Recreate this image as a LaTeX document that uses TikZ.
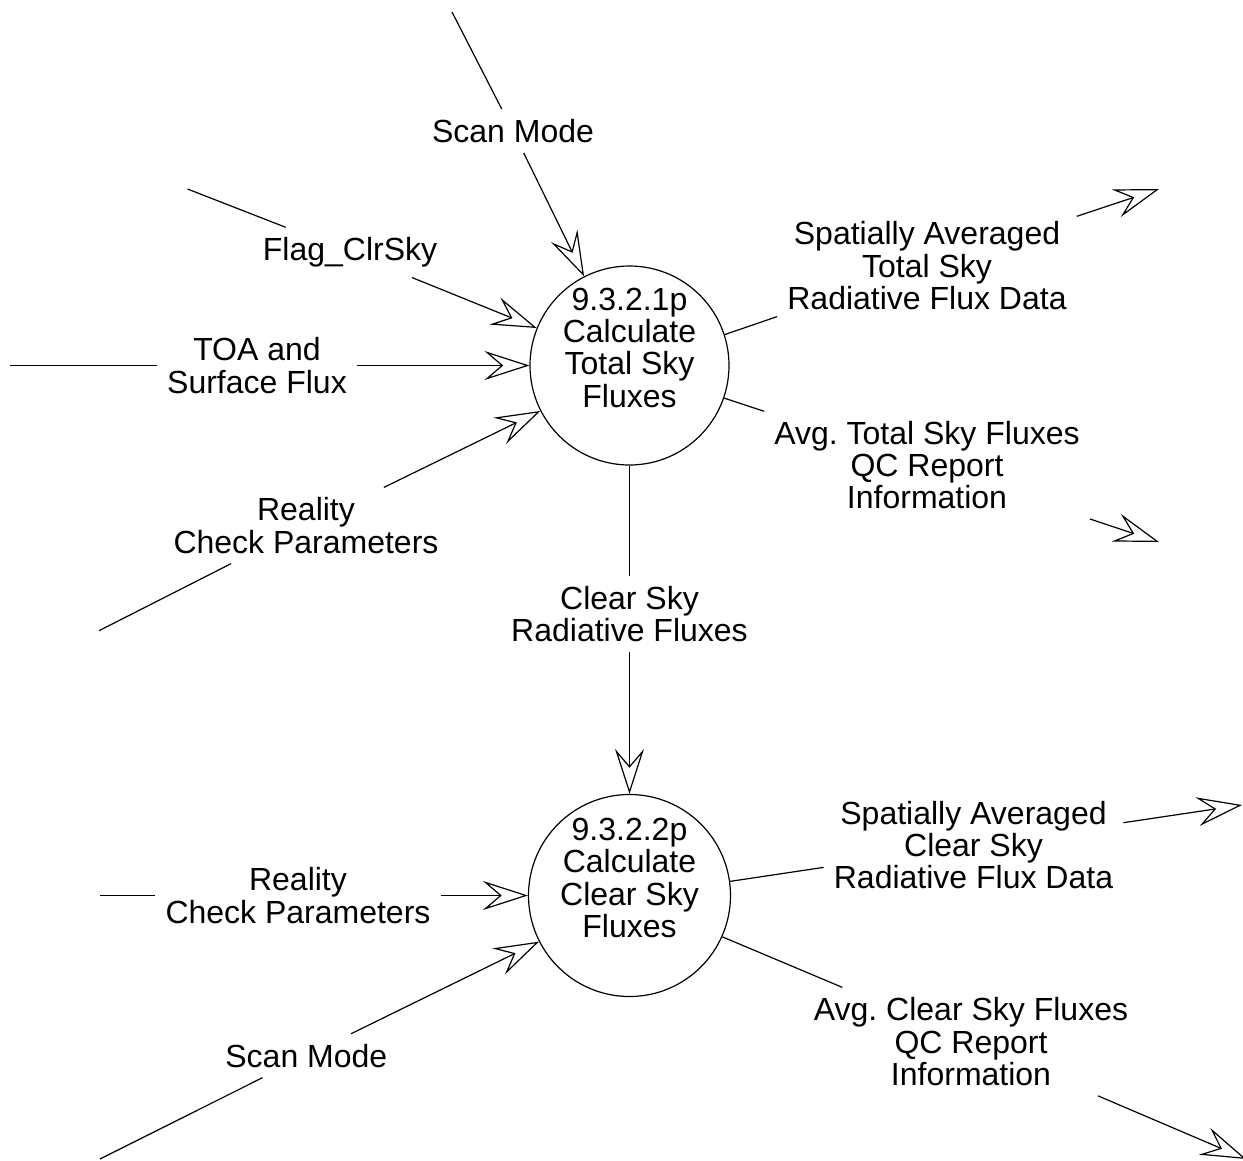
\documentclass[tikz,border=0pt]{standalone}
\usepackage{fontspec}
\setmainfont{Liberation Sans}
\usetikzlibrary{arrows.meta}
\frenchspacing
\tikzset{
  flow/.style={line width=1.2pt},
  flowarrow/.style={flow, -{Stealth[open, length=45pt, width=29pt, inset=17pt]}},
  proc/.style={circle, draw, line width=1.2pt, inner sep=0pt},
  lbl/.style={align=center, inner sep=10pt, font=\fontsize{32}{32.3}\selectfont},
  ptext/.style={lbl, inner sep=0pt},
}
\begin{document}
\begin{tikzpicture}[x=1pt, y=-1pt]
  \fill[white] (0,0) rectangle (1243,1160);
  \useasboundingbox (0,0) rectangle (1243,1160);

  % processes
  \node[proc, minimum size=199pt] (p1) at (629.5,365.5) {};
  \node[ptext] (t1) at (629.5,347.6) {9.3.2.1p\\Calculate\\Total Sky\\Fluxes};
  \node[proc, minimum size=202pt] (p2) at (629.5,895.5) {};
  \node[ptext] (t2) at (629.5,878) {9.3.2.2p\\Calculate\\Clear Sky\\Fluxes};

  % inputs to 9.3.2.1p
  \coordinate (s1) at (452,12);
  \node[lbl] (l1) at (513,131) {Scan Mode};
  \draw[flow] (s1) -- (l1);
  \draw[flowarrow] (l1) -- (p1.117);

  \coordinate (s2) at (187.5,189);
  \node[lbl] (l2) at (350,252.4) {Flag\_ClrSky};
  \draw[flow] (s2) -- (l2);
  \draw[flowarrow] (l2) -- (p1.158);

  \coordinate (s3) at (10,365.5);
  \node[lbl] (l3) at (257,365.5) {TOA and\\Surface Flux};
  \draw[flow] (s3) -- (l3);
  \draw[flowarrow] (l3) -- (p1.west);

  \coordinate (s4) at (99,630.7);
  \node[lbl] (l4) at (306,525.5) {Reality\\Check Parameters};
  \draw[flow] (s4) -- (l4);
  \draw[flowarrow] (l4) -- (p1.207);

  % outputs of 9.3.2.1p
  \node[lbl] (l5) at (927,265.8) {Spatially Averaged\\Total Sky\\Radiative Flux Data};
  \coordinate (e5) at (1159,189);
  \draw[flow] (p1.18) -- (l5);
  \draw[flowarrow] (l5) -- (e5);

  \node[lbl] (l6) at (927,465) {Avg. Total Sky Fluxes\\QC Report\\Information};
  \coordinate (e6) at (1159,542);
  \draw[flow] (p1.-19) -- (l6);
  \draw[flowarrow] (l6) -- (e6);

  % link between the processes
  \node[lbl] (l7) at (629.5,613.8) {Clear Sky\\Radiative Fluxes};
  \draw[flow] (p1.south) -- (l7);
  \draw[flowarrow] (l7) -- (p2.north);

  % inputs to 9.3.2.2p
  \coordinate (s8) at (99.5,895.5);
  \node[lbl] (l8) at (298,895.5) {Reality\\Check Parameters};
  \draw[flow] (s8) -- (l8);
  \draw[flowarrow] (l8) -- (p2.west);

  \coordinate (s9) at (100,1159);
  \node[lbl] (l9) at (306.3,1055.7) {Scan Mode};
  \draw[flow] (s9) -- (l9);
  \draw[flowarrow] (l9) -- (p2.207);

  % outputs of 9.3.2.2p
  \node[lbl] (l10) at (973.5,845) {Spatially Averaged\\Clear Sky\\Radiative Flux Data};
  \coordinate (e10) at (1242,805);
  \draw[flow] (p2.8) -- (l10);
  \draw[flowarrow] (l10) -- (e10);

  \node[lbl] (l11) at (971,1041.6) {Avg. Clear Sky Fluxes\\QC Report\\Information};
  \coordinate (e11) at (1246,1159);
  \draw[flow] (p2.-24) -- (l11);
  \draw[flowarrow] (l11) -- (e11);
\end{tikzpicture}
\end{document}
